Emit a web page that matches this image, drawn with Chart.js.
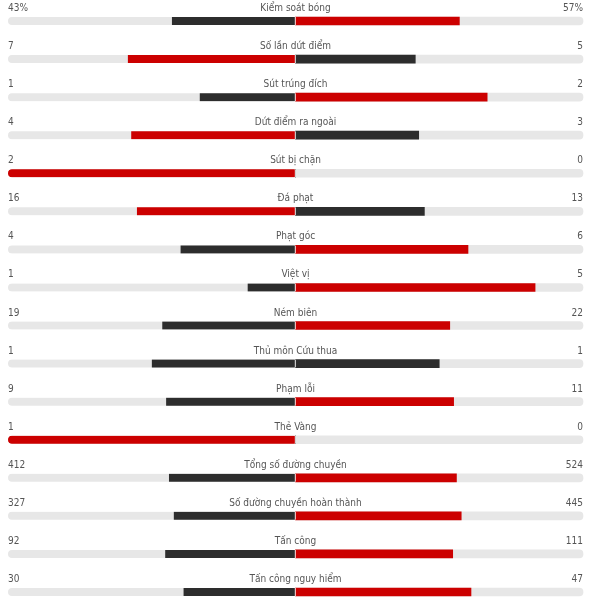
<!DOCTYPE html>
<html lang="vi">
  <head>
    <meta charset="UTF-8" />
    <title>Thống kê trận đấu</title>
    <script src="https://cdn.jsdelivr.net/npm/chart.js"></script>
    <style>
      html,
      body {
        margin: 0;
        padding: 0;
        background: #ffffff;
      }
      #wrap {
        position: relative;
        width: 589px;
        height: 601px;
      }
    </style>
  </head>
  <body>
    <div id="wrap"><canvas id="myChart"></canvas></div>
    <script>
      // du lieu doc tu hinh
      const categories = [
        "Kiểm soát bóng",
        "Số lần dứt điểm",
        "Sút trúng đích",
        "Dứt điểm ra ngoài",
        "Sút bị chặn",
        "Đá phạt",
        "Phạt góc",
        "Việt vị",
        "Ném biên",
        "Thủ môn Cứu thua",
        "Phạm lỗi",
        "Thẻ Vàng",
        "Tổng số đường chuyền",
        "Số đường chuyền hoàn thành",
        "Tấn công",
        "Tấn công nguy hiểm",
      ];
      const homeValues = [43, 7, 1, 4, 2, 16, 4, 1, 19, 1, 9, 1, 412, 327, 92, 30];
      const awayValues = [57, 5, 2, 3, 0, 13, 6, 5, 22, 1, 11, 0, 524, 445, 111, 47];
      const valueSuffix = ["%", "", "", "", "", "", "", "", "", "", "", "", "", "", "", ""];

      const RED = "#cc0000";
      const DARK = "#2d2d2d";
      const TRACK = "#e7e7e7";

      const homeShare = homeValues.map((h, i) => h / (h + awayValues[i]));
      const awayShare = awayValues.map((a, i) => a / (homeValues[i] + a));

      const homeColors = homeValues.map((h, i) => (h > awayValues[i] ? RED : DARK));
      const awayColors = awayValues.map((a, i) => (a > homeValues[i] ? RED : DARK));

      const statText = {
        id: "statText",
        afterDatasetsDraw(chart) {
          const { ctx, chartArea, scales } = chart;
          const x = scales.x;
          const y = scales.y;
          ctx.save();
          ctx.font = "10px 'DejaVu Sans Condensed', 'DejaVu Sans'";
          ctx.fillStyle = "#555555";
          ctx.textBaseline = "alphabetic";
          categories.forEach((c, i) => {
            const yy = y.getPixelForValue(i) - 10;
            ctx.textAlign = "left";
            ctx.fillText(homeValues[i] + valueSuffix[i], chartArea.left, yy);
            ctx.textAlign = "center";
            ctx.fillText(c, x.getPixelForValue(0), yy);
            ctx.textAlign = "right";
            ctx.fillText(awayValues[i] + valueSuffix[i], chartArea.right, yy);
          });
          ctx.restore();
        },
      };

      const leftRound = { topLeft: 4, bottomLeft: 4, topRight: 0, bottomRight: 0 };
      const rightRound = { topLeft: 0, bottomLeft: 0, topRight: 4, bottomRight: 4 };
      const noRound = 0;
      const gapRight = { left: 0, right: 1, top: 0, bottom: 0 };
      const gapLeft = { left: 0, right: 0, top: 0, bottom: 0 };

      const common = {
        grouped: false,
        barThickness: 8,
        borderSkipped: false,
        borderColor: "#ffffff",
        clip: false,
      };

      const ctx = document.getElementById("myChart").getContext("2d");
      const myChart = new Chart(ctx, {
        type: "bar",
        data: {
          labels: categories,
          datasets: [
            {
              ...common,
              label: "home",
              data: homeShare.map((v) => [-v, 0]),
              backgroundColor: homeColors,
              borderWidth: gapRight,
              borderRadius: (c) => (homeShare[c.dataIndex] >= 1 ? leftRound : noRound),
            },
            {
              ...common,
              label: "away",
              data: awayShare.map((v) => [0, v]),
              backgroundColor: awayColors,
              borderWidth: gapLeft,
              borderRadius: (c) => (awayShare[c.dataIndex] >= 1 ? rightRound : noRound),
            },
            {
              ...common,
              label: "trackLeft",
              data: categories.map(() => [-1, 0]),
              backgroundColor: TRACK,
              borderWidth: gapRight,
              borderRadius: leftRound,
            },
            {
              ...common,
              label: "trackRight",
              data: categories.map(() => [0, 1]),
              backgroundColor: TRACK,
              borderWidth: gapLeft,
              borderRadius: rightRound,
            },
          ],
        },
        options: {
          indexAxis: "y",
          responsive: true,
          maintainAspectRatio: false,
          animation: false,
          layout: {
            padding: { left: 8, right: 6, top: 21, bottom: 9 },
          },
          scales: {
            x: { min: -1, max: 1, display: false },
            y: { display: false, offset: false },
          },
          plugins: {
            legend: { display: false },
            tooltip: { enabled: false },
          },
        },
        plugins: [statText],
      });
    </script>
  </body>
</html>
